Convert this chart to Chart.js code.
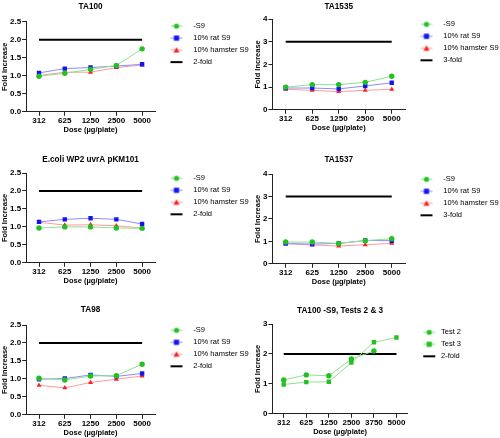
<!DOCTYPE html>
<html><head><meta charset="utf-8">
<script src="https://cdn.jsdelivr.net/npm/chart.js@4.4.0/dist/chart.umd.min.js"></script>
<style>
html,body{margin:0;padding:0;background:#fff;width:500px;height:438px;overflow:hidden}
canvas{position:absolute;display:block}
</style></head><body>
<canvas id="c1" width="250" height="145" style="left:0;top:0"></canvas>
<canvas id="c2" width="250" height="145" style="left:250px;top:0"></canvas>
<canvas id="c3" width="250" height="145" style="left:0;top:145px"></canvas>
<canvas id="c4" width="250" height="145" style="left:250px;top:145px"></canvas>
<canvas id="c5" width="250" height="148" style="left:0;top:290px"></canvas>
<canvas id="c6" width="250" height="148" style="left:250px;top:290px"></canvas>
<script>
// ---- data ----
const doses = ['312', '625', '1250', '2500', '5000'];
const doses6 = ['312', '625', '1250', '2500', '3750', '5000'];
const seriesNames = ['-S9', '10% rat S9', '10% hamster S9'];

const ta100_minusS9 = [0.99, 1.07, 1.18, 1.29, 1.75];
const ta100_rat     = [1.08, 1.20, 1.23, 1.27, 1.32];
const ta100_hamster = [1.01, 1.10, 1.10, 1.23, 1.30];

const ta1535_minusS9 = [1.00, 1.11, 1.11, 1.21, 1.48];
const ta1535_rat     = [0.96, 0.96, 0.92, 1.05, 1.19];
const ta1535_hamster = [0.90, 0.86, 0.80, 0.86, 0.90];

const ecoli_minusS9 = [0.97, 1.00, 1.00, 0.97, 0.96];
const ecoli_rat     = [1.14, 1.21, 1.24, 1.21, 1.08];
const ecoli_hamster = [1.13, 1.05, 1.06, 1.03, 0.97];

const ta1537_minusS9 = [0.97, 0.97, 0.91, 1.03, 1.12];
const ta1537_rat     = [0.90, 0.88, 0.91, 1.04, 1.03];
const ta1537_hamster = [0.90, 0.84, 0.79, 0.85, 0.91];

const ta98_minusS9 = [1.02, 0.97, 1.08, 1.09, 1.41];
const ta98_rat     = [0.99, 1.01, 1.11, 1.07, 1.15];
const ta98_hamster = [0.82, 0.75, 0.90, 0.99, 1.08];

const ta100_test2 = [1.13, 1.30, 1.27, 1.83, 2.10, null];
const ta100_test3 = [0.98, 1.06, 1.07, 1.71, 2.39, 2.55];

const twoFold5   = [2, 2, 2, 2, 2];
const threeFold5 = [3, 3, 3, 3, 3];
const twoFold6   = [2, 2, 2, 2, 2, 2];

// ---- styles ----
const FONT = "'Liberation Sans', Arial, sans-serif";
const STY = {
  green:   {marker: '#22c022', line: '#8fe08f', shape: 'circle', r: 2.7},
  greenSq: {marker: '#22c022', line: '#8fe08f', shape: 'rect', r: 3.1},
  blue:    {marker: '#1414f0', line: '#8c8cff', shape: 'rect', r: 3.1},
  red:     {marker: '#ff2020', line: '#ff9a9a', shape: 'triangle', r: 2.9},
};

function legendIcon(st, isRef, w) {
  const c = document.createElement('canvas');
  c.width = w; c.height = 10;
  const x = c.getContext('2d');
  if (isRef) {
    x.strokeStyle = '#000'; x.lineWidth = 2;
    x.beginPath(); x.moveTo(11, 5); x.lineTo(23, 5); x.stroke();
    return c;
  }
  x.strokeStyle = st.line; x.lineWidth = 1;
  x.beginPath(); x.moveTo(11, 5); x.lineTo(23, 5); x.stroke();
  x.fillStyle = st.marker;
  const cx = 17, cy = 5;
  if (st.shape === 'circle') { x.beginPath(); x.arc(cx, cy, 2.6, 0, Math.PI * 2); x.fill(); }
  else if (st.shape === 'rect') { x.fillRect(cx - 2.6, cy - 2.6, 5.2, 5.2); }
  else { x.beginPath(); x.moveTo(cx, cy - 3); x.lineTo(cx + 3, cy + 2.4); x.lineTo(cx - 3, cy + 2.4); x.closePath(); x.fill(); }
  return c;
}

function ds(label, data, st) {
  return {
    label, data, borderColor: st.line, backgroundColor: st.marker,
    pointBackgroundColor: st.marker, pointBorderColor: st.marker,
    pointStyle: st.shape, pointRadius: st.r, pointBorderWidth: 0,
    borderWidth: 1, tension: 0, spanGaps: false, _st: st
  };
}
function refDs(label, data) {
  return {
    label, data, borderColor: '#000', backgroundColor: '#000',
    pointRadius: 0, borderWidth: 2, tension: 0, _st: null
  };
}

// nudge legend block upward slightly so it starts near the top of the plot
const legendNudge = {
  id: 'legendNudge',
  afterLayout(chart, args, opts) {
    const lg = chart.legend;
    if (lg) { lg.top -= opts.dy; lg.bottom -= opts.dy; }
  }
};

function makeChart(id, title, cats, datasets, yMax, yStep, yDec, pad, titleGap, iconW, nudge) {
  const axisCommon = {
    grid: {display: true, drawOnChartArea: false, drawTicks: true, tickLength: 4, color: '#222', lineWidth: 1},
    border: {display: true, color: '#222', width: 1},
  };
  new Chart(document.getElementById(id), {
    type: 'line',
    data: {labels: cats, datasets},
    plugins: [legendNudge],
    options: {
      responsive: false, animation: false,
      layout: {padding: pad},
      plugins: {
        legendNudge: {dy: nudge},
        title: {display: true, text: title, fullSize: false, color: '#000',
          font: {family: FONT, size: 8.2, weight: 'bold'}, padding: {top: 2, bottom: titleGap}},
        legend: {display: true, position: 'right', align: 'start', fullSize: false, maxWidth: 95,
          labels: {usePointStyle: true, pointStyleWidth: iconW, padding: 4.5, color: '#000',
            font: {family: FONT, size: 7.5},
            generateLabels: (chart) => chart.data.datasets.map((d, i) => ({
              text: d.label, pointStyle: legendIcon(d._st, d._st === null, iconW),
              fillStyle: 'transparent', strokeStyle: 'transparent',
              lineWidth: 0, hidden: false, datasetIndex: i, fontColor: '#000'
            }))}},
        tooltip: {enabled: false}
      },
      scales: {
        x: Object.assign({type: 'category', offset: true,
          ticks: {color: '#000', font: {family: FONT, size: 8, weight: 'bold'}, padding: 0, maxRotation: 0, autoSkip: false},
          title: {display: true, text: 'Dose (µg/plate)', color: '#000', font: {family: FONT, size: 7.5, weight: 'bold'}, padding: {top: 0, bottom: 0}}
        }, axisCommon),
        y: Object.assign({min: 0, max: yMax,
          ticks: {stepSize: yStep, color: '#000', font: {family: FONT, size: 8, weight: 'bold'}, padding: 1,
            callback: (v) => Number(v).toFixed(yDec)},
          title: {display: true, text: 'Fold Increase', color: '#000', font: {family: FONT, size: 7.5, weight: 'bold'}, padding: {top: 0, bottom: 0}}
        }, axisCommon)
      }
    }
  });
}

makeChart('c1', 'TA100', doses, [
  ds(seriesNames[0], ta100_minusS9, STY.green),
  ds(seriesNames[1], ta100_rat, STY.blue),
  ds(seriesNames[2], ta100_hamster, STY.red),
  refDs('2-fold', twoFold5)], 2.5, 0.5, 1, {left: 0, top: 0, right: 0, bottom: 10.6}, 10, 30, 4);

makeChart('c2', 'TA1535', doses, [
  ds(seriesNames[0], ta1535_minusS9, STY.green),
  ds(seriesNames[1], ta1535_rat, STY.blue),
  ds(seriesNames[2], ta1535_hamster, STY.red),
  refDs('3-fold', threeFold5)], 4, 1, 0, {left: 3, top: 0, right: 0, bottom: 12.6}, 7.2, 30, 3);

makeChart('c3', 'E.coli WP2 uvrA pKM101', doses, [
  ds(seriesNames[0], ecoli_minusS9, STY.green),
  ds(seriesNames[1], ecoli_rat, STY.blue),
  ds(seriesNames[2], ecoli_hamster, STY.red),
  refDs('2-fold', twoFold5)], 2.5, 0.5, 1, {left: 0, top: 8.1, right: 0, bottom: 4.6}, 8.1, 30, 3);

makeChart('c4', 'TA1537', doses, [
  ds(seriesNames[0], ta1537_minusS9, STY.green),
  ds(seriesNames[1], ta1537_rat, STY.blue),
  ds(seriesNames[2], ta1537_hamster, STY.red),
  refDs('3-fold', threeFold5)], 4, 1, 0, {left: 3, top: 8.1, right: 0, bottom: 3.6}, 9.1, 30, 3);

makeChart('c5', 'TA98', doses, [
  ds(seriesNames[0], ta98_minusS9, STY.green),
  ds(seriesNames[1], ta98_rat, STY.blue),
  ds(seriesNames[2], ta98_hamster, STY.red),
  refDs('2-fold', twoFold5)], 2.5, 0.5, 1, {left: 0, top: 13.1, right: 0, bottom: 0.6}, 10.1, 30, 3);

makeChart('c6', 'TA100 -S9, Tests 2 & 3', doses6, [
  ds('Test 2', ta100_test2, STY.green),
  ds('Test 3', ta100_test3, STY.greenSq),
  refDs('2-fold', twoFold6)], 3, 1, 0, {left: 3, top: 13.8, right: 29, bottom: 1.6}, 8.4, 25, 0);
</script>
</body></html>
